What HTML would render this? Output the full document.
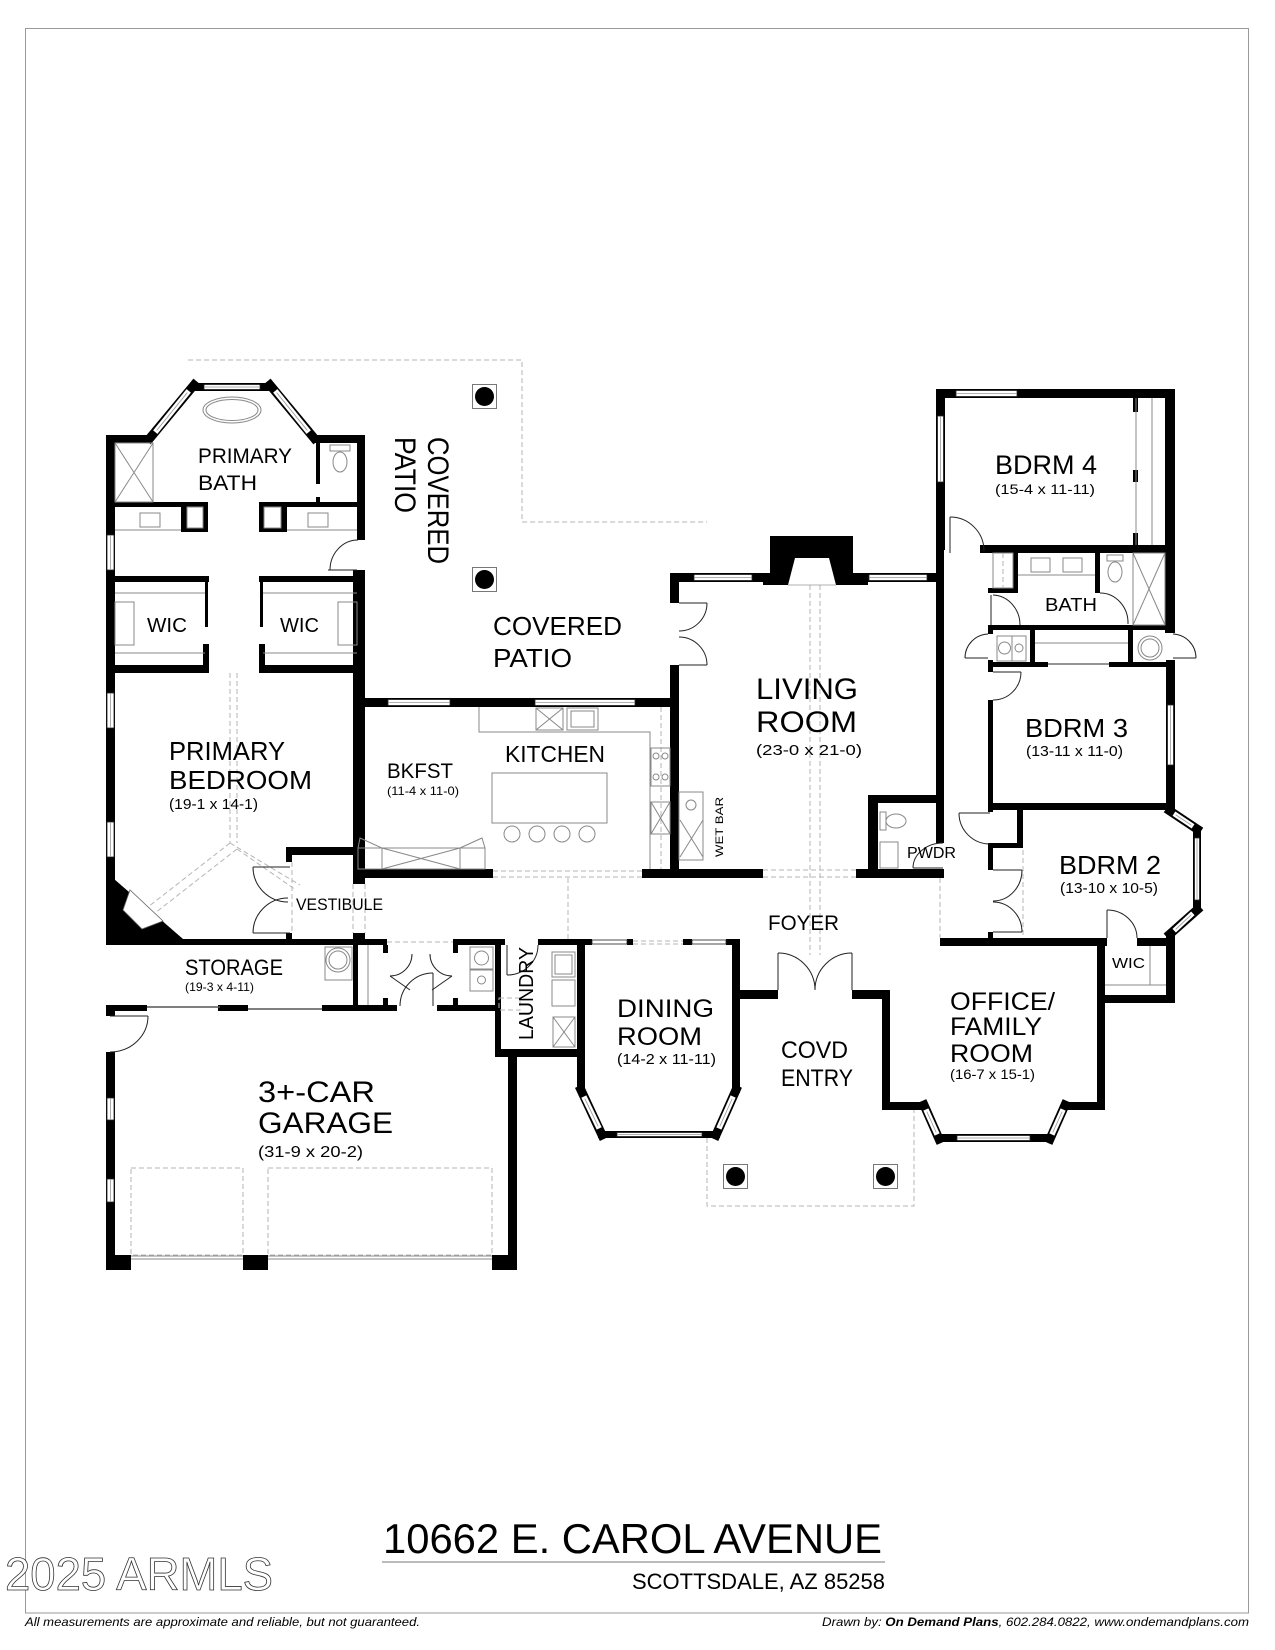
<!DOCTYPE html>
<html><head><meta charset="utf-8"><title>10662 E. Carol Avenue</title>
<style>
html,body{margin:0;padding:0;background:#fff;}
svg{display:block}
.t{font-family:"Liberation Sans",Arial,sans-serif;fill:#000}
.g{fill:none;stroke:#888;stroke-width:1}
.gw{fill:#fff;stroke:#888;stroke-width:1}
.d{fill:none;stroke:#b5b5b5;stroke-width:1;stroke-dasharray:5 3}
.a{fill:none;stroke:#222;stroke-width:1}
.wn{fill:#fff;stroke:#222;stroke-width:0.8}
.wl{stroke:#999;stroke-width:0.8}
</style></head><body>
<svg width="1275" height="1650" viewBox="0 0 1275 1650" xmlns="http://www.w3.org/2000/svg">
<rect width="1275" height="1650" fill="#fff"/>
<!-- frame -->
<rect x="25.5" y="28.5" width="1223" height="1584.5" fill="none" stroke="#9a9a9a" stroke-width="1"/>

<!-- ============ DASHED OUTLINES ============ -->
<polyline class="d" points="188,360 522,360 522,522 707,522"/>
<polyline class="d" points="707,1138 707,1206 914,1206 914,1110"/>
<rect x="131" y="1168" width="112" height="87" class="d"/>
<rect x="268" y="1168" width="224" height="87" class="d"/>
<!-- interior dashed -->
<line class="d" x1="230" y1="673" x2="230" y2="843"/>
<line class="d" x1="237" y1="673" x2="237" y2="843"/>
<line class="d" x1="230" y1="843" x2="148" y2="907"/>
<line class="d" x1="237" y1="849" x2="155" y2="913"/>
<line class="d" x1="230" y1="843" x2="300" y2="885"/>
<line class="d" x1="237" y1="849" x2="296" y2="890"/>
<line class="d" x1="493" y1="871" x2="642" y2="871"/>
<line class="d" x1="493" y1="877" x2="642" y2="877"/>
<line class="d" x1="763" y1="870" x2="856" y2="870"/>
<line class="d" x1="763" y1="877" x2="856" y2="877"/>
<line class="d" x1="810" y1="585" x2="810" y2="955"/>
<line class="d" x1="820" y1="585" x2="820" y2="955"/>
<line class="d" x1="568" y1="878" x2="568" y2="939"/>
<line class="d" x1="940" y1="878" x2="940" y2="938"/>
<line class="d" x1="292" y1="862" x2="292" y2="933"/>
<line class="d" x1="353" y1="884" x2="353" y2="933"/>
<line class="d" x1="365" y1="884" x2="365" y2="933"/>
<line class="d" x1="387" y1="942" x2="453" y2="942"/>
<line class="d" x1="633" y1="941" x2="683" y2="941"/>
<line class="d" x1="633" y1="944" x2="683" y2="944"/>
<line class="d" x1="1023" y1="850" x2="1023" y2="938"/>
<line class="d" x1="661" y1="707" x2="661" y2="869"/>

<!-- ============ WALLS ============ -->
<g fill="#000">
<!-- primary suite -->
<rect x="106" y="435" width="44" height="8"/>
<rect x="312" y="435" width="53" height="8"/>
<rect x="106" y="435" width="9" height="510"/>
<rect x="357" y="435" width="8" height="105"/>
<rect x="353" y="570" width="12" height="314"/>
<rect x="353" y="933" width="12" height="12"/>
<rect x="192" y="383" width="80" height="8"/>
<rect x="115" y="502" width="66" height="5"/>
<rect x="287" y="502" width="70" height="5"/>
<rect x="181" y="502" width="27" height="30"/>
<rect x="259" y="502" width="28" height="30"/>
<rect x="316" y="437" width="4" height="47"/>
<rect x="316" y="497" width="4" height="5"/>
<rect x="106" y="576" width="103" height="6"/>
<rect x="259" y="576" width="106" height="6"/>
<rect x="205" y="582" width="3" height="45"/>
<rect x="260" y="582" width="3" height="45"/>
<rect x="203" y="644" width="6" height="29"/>
<rect x="259" y="644" width="6" height="29"/>
<rect x="106" y="665" width="103" height="8"/>
<rect x="259" y="665" width="106" height="8"/>
<polygon points="106,872 183,939 106,941"/>
<!-- bottom of primary / storage top -->
<rect x="106" y="939" width="281" height="6"/>
<rect x="453" y="939" width="52" height="6"/>
<rect x="538" y="939" width="47" height="6"/>
<!-- vestibule -->
<rect x="286" y="847" width="67" height="8"/>
<rect x="286" y="847" width="6" height="15"/>
<rect x="286" y="933" width="6" height="12"/>
<!-- kitchen -->
<rect x="353" y="698" width="326" height="9"/>
<rect x="670" y="573" width="9" height="30"/>
<rect x="670" y="665" width="9" height="213"/>
<rect x="353" y="869" width="140" height="9"/>
<rect x="642" y="869" width="121" height="9"/>
<rect x="856" y="869" width="88" height="9"/>
<!-- living -->
<rect x="670" y="573" width="274" height="9"/>
<rect x="770" y="536" width="83" height="40"/>
<rect x="763" y="573" width="105" height="12"/>
<rect x="936" y="389" width="9" height="161"/>
<rect x="936" y="548" width="8" height="295"/>
<!-- pwdr -->
<rect x="868" y="795" width="76" height="8"/>
<rect x="868" y="795" width="10" height="83"/>
<!-- bdrm4 -->
<rect x="936" y="389" width="239" height="9"/>
<rect x="1165" y="389" width="10" height="244"/>
<rect x="980" y="545" width="195" height="8"/>
<rect x="1133" y="398" width="5" height="14"/>
<rect x="1133" y="470" width="5" height="12"/>
<rect x="1133" y="533" width="5" height="12"/>
<!-- bdrm4 bath -->
<rect x="1013" y="553" width="5" height="40"/>
<rect x="988" y="588" width="30" height="5"/>
<rect x="1095" y="553" width="5" height="40"/>
<rect x="988" y="625" width="187" height="5"/>
<rect x="988" y="625" width="5" height="9"/>
<rect x="988" y="660" width="5" height="12"/>
<rect x="1030" y="630" width="5" height="37"/>
<rect x="1128" y="630" width="5" height="37"/>
<rect x="988" y="662" width="60" height="5"/>
<rect x="1109" y="662" width="66" height="5"/>
<rect x="1166" y="660" width="9" height="152"/>
<!-- bdrm3 -->
<rect x="988" y="700" width="5" height="112"/>
<rect x="988" y="803" width="187" height="7"/>
<!-- bdrm2 -->
<rect x="988" y="843" width="35" height="5"/>
<rect x="1017" y="810" width="6" height="38"/>
<rect x="988" y="843" width="5" height="27"/>
<rect x="988" y="932" width="5" height="8"/>
<rect x="1193" y="826" width="8" height="86"/>
<!-- office / wic -->
<rect x="940" y="938" width="167" height="8"/>
<rect x="1137" y="938" width="38" height="8"/>
<rect x="1166" y="934" width="9" height="69"/>
<rect x="1097" y="946" width="8" height="164"/>
<rect x="1097" y="995" width="78" height="8"/>
<rect x="1065" y="1102" width="40" height="8"/>
<rect x="882" y="1102" width="40" height="8"/>
<rect x="882" y="990" width="8" height="120"/>
<rect x="937" y="1134" width="115" height="8"/>
<!-- covd entry -->
<rect x="732" y="990" width="46" height="9"/>
<rect x="852" y="990" width="38" height="9"/>
<!-- dining -->
<rect x="577" y="939" width="15" height="6"/>
<rect x="627" y="939" width="6" height="6"/>
<rect x="683" y="939" width="9" height="6"/>
<rect x="726" y="939" width="14" height="6"/>
<rect x="577" y="939" width="8" height="151"/>
<rect x="732" y="939" width="8" height="154"/>
<rect x="598" y="1131" width="122" height="7"/>
<!-- laundry -->
<rect x="495" y="939" width="10" height="6"/>
<rect x="495" y="939" width="6" height="118"/>
<rect x="495" y="1049" width="90" height="8"/>
<rect x="508" y="1049" width="9" height="221"/>
<!-- hall closets -->
<rect x="353" y="945" width="5" height="66"/>
<rect x="383" y="945" width="5" height="8"/>
<rect x="453" y="945" width="5" height="8"/>
<rect x="383" y="998" width="5" height="8"/>
<rect x="453" y="998" width="5" height="8"/>
<!-- storage bottom -->
<rect x="106" y="1005" width="41" height="6"/>
<rect x="218" y="1005" width="30" height="6"/>
<rect x="322" y="1005" width="75" height="6"/>
<rect x="437" y="1005" width="63" height="6"/>
<!-- garage -->
<rect x="106" y="1005" width="9" height="11"/>
<rect x="106" y="1052" width="9" height="218"/>
<rect x="106" y="1255" width="25" height="15"/>
<rect x="243" y="1255" width="25" height="15"/>
<rect x="492" y="1255" width="25" height="15"/>
</g>
<!-- corner fireplace white inner -->
<polygon points="130,890 123,910 142,929 163,921" fill="#fff" stroke="#666" stroke-width="0.8"/>
<!-- living fireplace hearth -->
<polygon points="795,558 829,558 836,585 788,585" fill="#fff"/>
<line x1="788" y1="585" x2="836" y2="585" class="wl"/>
<!-- stub inner whites -->
<rect x="187" y="507" width="16" height="21" class="gw"/>
<rect x="264" y="507" width="17" height="21" class="gw"/>

<!-- ============ WINDOWS ============ -->
<g>
<rect x="107" y="535" width="7" height="35" class="wn"/><line x1="110.5" y1="535" x2="110.5" y2="570" class="wl"/>
<rect x="107" y="693" width="7" height="35" class="wn"/><line x1="110.5" y1="693" x2="110.5" y2="728" class="wl"/>
<rect x="107" y="822" width="7" height="35" class="wn"/><line x1="110.5" y1="822" x2="110.5" y2="857" class="wl"/>
<rect x="107" y="1098" width="7" height="22" class="wn"/><line x1="110.5" y1="1098" x2="110.5" y2="1120" class="wl"/>
<rect x="107" y="1179" width="7" height="23" class="wn"/><line x1="110.5" y1="1179" x2="110.5" y2="1202" class="wl"/>
<rect x="204" y="384.5" width="56" height="5" class="wn"/><line x1="204" y1="387" x2="260" y2="387" class="wl"/>
<rect x="388" y="699.5" width="62" height="6" class="wn"/><line x1="388" y1="702.5" x2="450" y2="702.5" class="wl"/>
<rect x="535" y="699.5" width="100" height="6" class="wn"/><line x1="535" y1="702.5" x2="635" y2="702.5" class="wl"/>
<rect x="694" y="574.5" width="58" height="6" class="wn"/><line x1="694" y1="577.5" x2="752" y2="577.5" class="wl"/>
<rect x="869" y="574.5" width="58" height="6" class="wn"/><line x1="869" y1="577.5" x2="927" y2="577.5" class="wl"/>
<rect x="956" y="390.5" width="61" height="6" class="wn"/><line x1="956" y1="393.5" x2="1017" y2="393.5" class="wl"/>
<rect x="937.5" y="416" width="6" height="66" class="wn"/><line x1="940.5" y1="416" x2="940.5" y2="482" class="wl"/>
<rect x="1167.5" y="705" width="6" height="60" class="wn"/><line x1="1170.5" y1="705" x2="1170.5" y2="765" class="wl"/>
<rect x="1194.5" y="838" width="5" height="62" class="wn"/><line x1="1197" y1="838" x2="1197" y2="900" class="wl"/>
<rect x="592" y="940" width="35" height="4" class="wn"/>
<rect x="692" y="940" width="34" height="4" class="wn"/>
<rect x="617" y="1132.5" width="85" height="4" class="wn"/><line x1="617" y1="1134.5" x2="702" y2="1134.5" class="wl"/>
<rect x="957" y="1135.5" width="73" height="5" class="wn"/><line x1="957" y1="1138" x2="1030" y2="1138" class="wl"/>
</g>
<!-- diagonal walls with windows -->
<g stroke-linecap="square">
<line x1="150" y1="438" x2="194" y2="385" stroke="#000" stroke-width="9"/>
<line x1="157" y1="430" x2="187" y2="393" stroke="#fff" stroke-width="5.5"/>
<line x1="157" y1="430" x2="187" y2="393" stroke="#999" stroke-width="0.8"/>
<line x1="270" y1="385" x2="314" y2="438" stroke="#000" stroke-width="9"/>
<line x1="277" y1="393" x2="307" y2="430" stroke="#fff" stroke-width="5.5"/>
<line x1="277" y1="393" x2="307" y2="430" stroke="#999" stroke-width="0.8"/>
<line x1="581" y1="1090" x2="602" y2="1135" stroke="#000" stroke-width="9"/>
<line x1="585" y1="1099" x2="598" y2="1126" stroke="#fff" stroke-width="5.5"/>
<line x1="585" y1="1099" x2="598" y2="1126" stroke="#999" stroke-width="0.8"/>
<line x1="716" y1="1135" x2="736" y2="1090" stroke="#000" stroke-width="9"/>
<line x1="720" y1="1126" x2="732" y2="1099" stroke="#fff" stroke-width="5.5"/>
<line x1="720" y1="1126" x2="732" y2="1099" stroke="#999" stroke-width="0.8"/>
<line x1="924" y1="1105" x2="939" y2="1139" stroke="#000" stroke-width="9"/>
<line x1="927" y1="1112" x2="936" y2="1132" stroke="#fff" stroke-width="5.5"/>
<line x1="927" y1="1112" x2="936" y2="1132" stroke="#999" stroke-width="0.8"/>
<line x1="1050" y1="1139" x2="1065" y2="1105" stroke="#000" stroke-width="9"/>
<line x1="1053" y1="1132" x2="1062" y2="1112" stroke="#fff" stroke-width="5.5"/>
<line x1="1053" y1="1132" x2="1062" y2="1112" stroke="#999" stroke-width="0.8"/>
<line x1="1170" y1="811" x2="1197" y2="829" stroke="#000" stroke-width="9"/>
<line x1="1176" y1="815" x2="1191" y2="825" stroke="#fff" stroke-width="5"/>
<line x1="1176" y1="815" x2="1191" y2="825" stroke="#999" stroke-width="0.8"/>
<line x1="1197" y1="910" x2="1170" y2="934" stroke="#000" stroke-width="9"/>
<line x1="1191" y1="915" x2="1176" y2="929" stroke="#fff" stroke-width="5"/>
<line x1="1191" y1="915" x2="1176" y2="929" stroke="#999" stroke-width="0.8"/>
</g>
<!-- garage door line -->
<line x1="131" y1="1256" x2="243" y2="1256" class="g"/><line x1="131" y1="1259" x2="243" y2="1259" class="g"/>
<line x1="268" y1="1256" x2="492" y2="1256" class="g"/><line x1="268" y1="1259" x2="492" y2="1259" class="g"/>
<!-- storage sliding doors -->
<line x1="147" y1="1007" x2="220" y2="1007" stroke="#555" stroke-width="1.5"/>
<line x1="248" y1="1009" x2="322" y2="1009" stroke="#555" stroke-width="1.5"/>
<!-- bdrm4 closet -->
<line x1="1136" y1="398" x2="1136" y2="545" class="g"/>
<line x1="1152" y1="398" x2="1152" y2="545" class="g"/>
<line x1="1048" y1="664" x2="1109" y2="664" stroke="#555" stroke-width="1.2"/>

<!-- ============ DOORS ============ -->
<g class="a">
<path d="M330,570 A28,30 0 0 1 358,540"/><line x1="328" y1="570" x2="357" y2="570"/>
<path d="M253,867 A35,35 0 0 0 288,902"/><line x1="253" y1="867" x2="290" y2="867"/>
<path d="M253,933 A35,35 0 0 1 288,898"/><line x1="253" y1="933" x2="290" y2="933"/>
<path d="M707,603 A28,28 0 0 1 679,631"/><line x1="679" y1="603" x2="707" y2="603"/>
<path d="M707,665 A28,28 0 0 0 679,637"/><line x1="679" y1="665" x2="707" y2="665"/>
<path d="M950,517 A34,34 0 0 1 984,551"/><line x1="950" y1="517" x2="950" y2="553"/>
<path d="M993,595 A28,30 0 0 1 1020,625"/><line x1="991" y1="595" x2="991" y2="625"/>
<path d="M1100,593 A28,30 0 0 1 1128,624"/>
<path d="M965,658 A24,24 0 0 1 988,634"/><line x1="965" y1="658" x2="988" y2="658"/>
<path d="M1196,658 A24,24 0 0 0 1173,634"/><line x1="1173" y1="658" x2="1196" y2="658"/>
<path d="M1021,672 A28,28 0 0 1 993,700"/><line x1="993" y1="672" x2="1021" y2="672"/>
<path d="M959,813 A31,31 0 0 0 990,844"/><line x1="959" y1="813" x2="990" y2="813"/>
<path d="M1022,870 A29,31 0 0 1 993,901"/><line x1="993" y1="870" x2="1022" y2="870"/>
<path d="M993,902 A29,30 0 0 1 1022,932"/><line x1="993" y1="932" x2="1022" y2="932"/>
<path d="M1107,910 A30,28 0 0 1 1137,938"/><line x1="1107" y1="910" x2="1107" y2="938"/>
<path d="M913,868 A30,25 0 0 1 943,843"/><line x1="913" y1="868" x2="943" y2="868"/>
<path d="M778,953 A37,37 0 0 1 815,990"/><line x1="778" y1="953" x2="778" y2="990"/>
<path d="M852,953 A37,37 0 0 0 815,990"/><line x1="852" y1="953" x2="852" y2="990"/>
<path d="M507,975 A31,30 0 0 0 538,945"/><line x1="507" y1="945" x2="507" y2="975"/>
<path d="M400,1006 A33,33 0 0 1 433,973"/><line x1="433" y1="973" x2="433" y2="1006"/>
<path d="M148,1016 A38,36 0 0 1 110,1052"/><line x1="110" y1="1016" x2="148" y2="1016"/>
<path d="M412,954 A22,22 0 0 1 390,976"/><line x1="390" y1="976" x2="410" y2="990"/>
<path d="M430,954 A22,22 0 0 0 452,976"/><line x1="452" y1="976" x2="432" y2="990"/>
</g>

<!-- ============ FIXTURES ============ -->
<g class="g">
<!-- primary bath -->
<rect x="115" y="443" width="38" height="59"/>
<line x1="115" y1="443" x2="153" y2="502"/><line x1="153" y1="443" x2="115" y2="502"/>
<ellipse cx="232" cy="410" rx="29" ry="13"/><ellipse cx="232" cy="410" rx="26" ry="10.5"/>
<rect x="330" y="445" width="20" height="6"/><ellipse cx="340" cy="462" rx="7" ry="10"/>
<line x1="115" y1="530" x2="181" y2="530"/><line x1="287" y1="530" x2="357" y2="530"/>
<rect x="140" y="513" width="20" height="14"/><rect x="308" y="513" width="20" height="14"/>
<!-- WIC shelves -->
<line x1="115" y1="593" x2="205" y2="593"/><line x1="115" y1="653" x2="205" y2="653"/>
<line x1="263" y1="593" x2="357" y2="593"/><line x1="263" y1="653" x2="357" y2="653"/>
<rect x="115" y="602" width="19" height="43"/><rect x="338" y="602" width="19" height="43"/>
<!-- kitchen -->
<polyline points="479,707 479,732 650,732 650,869"/>
<rect x="536" y="708" width="27" height="22"/><line x1="536" y1="708" x2="563" y2="730"/><line x1="563" y1="708" x2="536" y2="730"/>
<rect x="567" y="708" width="31" height="22"/><rect x="571" y="711" width="23" height="16"/>
<rect x="651" y="748" width="19" height="38"/>
<circle cx="656" cy="756" r="3"/><circle cx="665" cy="756" r="3"/><circle cx="656" cy="777" r="3"/><circle cx="665" cy="777" r="3"/>
<rect x="651" y="802" width="19" height="32"/><line x1="651" y1="802" x2="670" y2="834"/><line x1="670" y1="802" x2="651" y2="834"/>
<rect x="492" y="773" width="115" height="50"/>
<circle cx="512" cy="834" r="8"/><circle cx="537" cy="834" r="8"/><circle cx="562" cy="834" r="8"/><circle cx="587" cy="834" r="8"/>
<!-- banquette -->
<rect x="358" y="848" width="127" height="21"/>
<line x1="382" y1="848" x2="382" y2="869"/><line x1="460" y1="848" x2="460" y2="869"/>
<line x1="382" y1="848" x2="460" y2="869"/><line x1="460" y1="848" x2="382" y2="869"/>
<polyline points="358,848 360,838 382,848"/><polyline points="460,848 482,838 485,848"/>
<!-- wet bar -->
<rect x="679" y="792" width="24" height="68"/><circle cx="691" cy="805" r="5"/>
<line x1="680" y1="820" x2="703" y2="857"/><line x1="703" y1="820" x2="680" y2="857"/>
<!-- pwdr -->
<rect x="880" y="812" width="6" height="18"/><ellipse cx="896" cy="821" rx="10" ry="7"/>
<rect x="880" y="842" width="18" height="26"/>
<!-- bdrm4 bath -->
<rect x="993" y="553" width="20" height="35"/><line x1="1003" y1="553" x2="1003" y2="588" class="d"/>
<line x1="1018" y1="575" x2="1095" y2="575"/>
<rect x="1031" y="558" width="19" height="14"/><rect x="1063" y="558" width="19" height="14"/>
<rect x="1107" y="555" width="16" height="6"/><ellipse cx="1115" cy="572" rx="7" ry="10"/>
<rect x="1133" y="553" width="32" height="72"/><line x1="1133" y1="553" x2="1165" y2="625"/><line x1="1165" y1="553" x2="1133" y2="625"/>
<rect x="997" y="636" width="15" height="25"/><circle cx="1004.5" cy="648" r="6"/>
<rect x="1012" y="636" width="14" height="25"/><circle cx="1019" cy="648" r="4"/>
<line x1="1035" y1="643" x2="1128" y2="643"/>
<circle cx="1150" cy="648" r="12"/><circle cx="1150" cy="648" r="9"/>
<!-- storage / hall -->
<rect x="325" y="947" width="27" height="33"/><circle cx="338" cy="960" r="12"/><circle cx="338" cy="960" r="9"/>
<line x1="368" y1="945" x2="368" y2="1005"/>
<rect x="470" y="947" width="23" height="22"/><circle cx="481.5" cy="958" r="7"/>
<rect x="470" y="970" width="23" height="21"/><circle cx="481.5" cy="980" r="4"/>
<!-- laundry -->
<rect x="552" y="952" width="23" height="25"/><rect x="555" y="955" width="17" height="19"/>
<rect x="552" y="980" width="23" height="26"/>
<rect x="553" y="1017" width="22" height="30"/><line x1="553" y1="1017" x2="575" y2="1047"/><line x1="575" y1="1017" x2="553" y2="1047"/>
<rect x="499" y="998" width="21" height="12" class="d"/>
<!-- wic bdrm2 -->
<line x1="1105" y1="985" x2="1166" y2="985"/>
<line x1="1150" y1="946" x2="1150" y2="985"/>
</g>

<!-- columns -->
<g>
<rect x="472.5" y="384.5" width="24" height="24" fill="#fff" stroke="#777"/><circle cx="484.5" cy="396.5" r="9.5" fill="#000"/>
<rect x="472.5" y="567.5" width="24" height="24" fill="#fff" stroke="#777"/><circle cx="484.5" cy="579.5" r="9.5" fill="#000"/>
<rect x="723.5" y="1164.5" width="24" height="24" fill="#fff" stroke="#777"/><circle cx="735.5" cy="1176.5" r="9.5" fill="#000"/>
<rect x="873.5" y="1164.5" width="24" height="24" fill="#fff" stroke="#777"/><circle cx="885.5" cy="1176.5" r="9.5" fill="#000"/>
</g>

<!-- ============ LABELS ============ -->
<g class="t" style="font-family:'Liberation Sans',Arial,sans-serif" fill="#000">
<text x="198" y="463" font-size="21" textLength="94" lengthAdjust="spacingAndGlyphs">PRIMARY</text>
<text x="198" y="490" font-size="21" textLength="59" lengthAdjust="spacingAndGlyphs">BATH</text>
<text x="147" y="632" font-size="20" textLength="40" lengthAdjust="spacingAndGlyphs">WIC</text>
<text x="280" y="632" font-size="20" textLength="39" lengthAdjust="spacingAndGlyphs">WIC</text>
<text transform="translate(428,437) rotate(90)" font-size="30" textLength="127" lengthAdjust="spacingAndGlyphs">COVERED</text>
<text transform="translate(395,437) rotate(90)" font-size="30" textLength="76" lengthAdjust="spacingAndGlyphs">PATIO</text>
<text x="493" y="635" font-size="26" textLength="129" lengthAdjust="spacingAndGlyphs">COVERED</text>
<text x="493" y="667" font-size="26" textLength="79" lengthAdjust="spacingAndGlyphs">PATIO</text>
<text x="169" y="760" font-size="26" textLength="116" lengthAdjust="spacingAndGlyphs">PRIMARY</text>
<text x="169" y="789" font-size="26" textLength="143" lengthAdjust="spacingAndGlyphs">BEDROOM</text>
<text x="169" y="809" font-size="15" textLength="89" lengthAdjust="spacingAndGlyphs">(19-1 x 14-1)</text>
<text x="387" y="778" font-size="21" textLength="66" lengthAdjust="spacingAndGlyphs">BKFST</text>
<text x="387" y="795" font-size="12" textLength="72" lengthAdjust="spacingAndGlyphs">(11-4 x 11-0)</text>
<text x="505" y="762" font-size="23" textLength="100" lengthAdjust="spacingAndGlyphs">KITCHEN</text>
<text transform="translate(723,857) rotate(-90)" font-size="11" textLength="60" lengthAdjust="spacingAndGlyphs">WET BAR</text>
<text x="756" y="699" font-size="30" textLength="102" lengthAdjust="spacingAndGlyphs">LIVING</text>
<text x="756" y="732" font-size="30" textLength="101" lengthAdjust="spacingAndGlyphs">ROOM</text>
<text x="756" y="755" font-size="15" textLength="106" lengthAdjust="spacingAndGlyphs">(23-0 x 21-0)</text>
<text x="995" y="474" font-size="27" textLength="102" lengthAdjust="spacingAndGlyphs">BDRM 4</text>
<text x="995" y="494" font-size="14" textLength="100" lengthAdjust="spacingAndGlyphs">(15-4 x 11-11)</text>
<text x="1045" y="611" font-size="18" textLength="52" lengthAdjust="spacingAndGlyphs">BATH</text>
<text x="1025" y="737" font-size="26" textLength="103" lengthAdjust="spacingAndGlyphs">BDRM 3</text>
<text x="1026" y="756" font-size="15" textLength="97" lengthAdjust="spacingAndGlyphs">(13-11 x 11-0)</text>
<text x="907" y="858" font-size="16" textLength="49" lengthAdjust="spacingAndGlyphs">PWDR</text>
<text x="1059" y="874" font-size="26" textLength="102" lengthAdjust="spacingAndGlyphs">BDRM 2</text>
<text x="1060" y="893" font-size="15" textLength="98" lengthAdjust="spacingAndGlyphs">(13-10 x 10-5)</text>
<text x="768" y="930" font-size="21" textLength="71" lengthAdjust="spacingAndGlyphs">FOYER</text>
<text x="1112" y="968" font-size="15" textLength="33" lengthAdjust="spacingAndGlyphs">WIC</text>
<text x="296" y="910" font-size="17" textLength="87" lengthAdjust="spacingAndGlyphs">VESTIBULE</text>
<text x="185" y="975" font-size="22" textLength="98" lengthAdjust="spacingAndGlyphs">STORAGE</text>
<text x="185" y="991" font-size="12" textLength="69" lengthAdjust="spacingAndGlyphs">(19-3 x 4-11)</text>
<text transform="translate(533,1040) rotate(-90)" font-size="20" textLength="93" lengthAdjust="spacingAndGlyphs">LAUNDRY</text>
<text x="617" y="1017" font-size="25" textLength="97" lengthAdjust="spacingAndGlyphs">DINING</text>
<text x="617" y="1045" font-size="25" textLength="85" lengthAdjust="spacingAndGlyphs">ROOM</text>
<text x="617" y="1064" font-size="15" textLength="99" lengthAdjust="spacingAndGlyphs">(14-2 x 11-11)</text>
<text x="781" y="1058" font-size="24" textLength="67" lengthAdjust="spacingAndGlyphs">COVD</text>
<text x="781" y="1086" font-size="24" textLength="72" lengthAdjust="spacingAndGlyphs">ENTRY</text>
<text x="950" y="1010" font-size="25" textLength="105" lengthAdjust="spacingAndGlyphs">OFFICE/</text>
<text x="950" y="1035" font-size="25" textLength="92" lengthAdjust="spacingAndGlyphs">FAMILY</text>
<text x="950" y="1062" font-size="25" textLength="83" lengthAdjust="spacingAndGlyphs">ROOM</text>
<text x="950" y="1079" font-size="14" textLength="85" lengthAdjust="spacingAndGlyphs">(16-7 x 15-1)</text>
<text x="258" y="1102" font-size="30" textLength="117" lengthAdjust="spacingAndGlyphs">3+-CAR</text>
<text x="258" y="1133" font-size="30" textLength="135" lengthAdjust="spacingAndGlyphs">GARAGE</text>
<text x="258" y="1157" font-size="16" textLength="105" lengthAdjust="spacingAndGlyphs">(31-9 x 20-2)</text>

<!-- title block -->
<text x="383" y="1553" font-size="42" textLength="499" lengthAdjust="spacingAndGlyphs">10662 E. CAROL AVENUE</text>
<text x="632" y="1589" font-size="22" textLength="253" lengthAdjust="spacingAndGlyphs">SCOTTSDALE, AZ 85258</text>
<text x="5" y="1590" font-size="46" textLength="268" lengthAdjust="spacingAndGlyphs" fill="#fff" stroke="#333" stroke-width="0.8">2025 ARMLS</text>
<text x="25" y="1626" font-size="12" font-style="italic" textLength="395" lengthAdjust="spacingAndGlyphs">All measurements are approximate and reliable, but not guaranteed.</text>
<text x="822" y="1626" font-size="12" font-style="italic" textLength="427" lengthAdjust="spacingAndGlyphs">Drawn by:  <tspan font-weight="bold">On Demand Plans</tspan>, 602.284.0822, www.ondemandplans.com</text>
</g>
<line x1="382" y1="1562" x2="885" y2="1562" stroke="#777" stroke-width="1"/>
</svg>
</body></html>
